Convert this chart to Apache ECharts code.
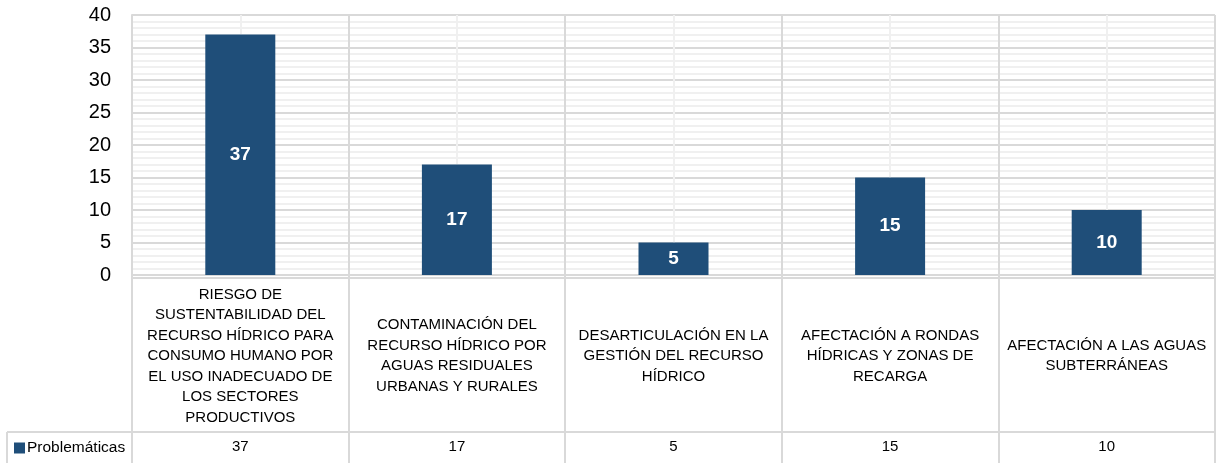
<!DOCTYPE html>
<html>
<head>
<meta charset="utf-8">
<script src="https://cdn.jsdelivr.net/npm/echarts@6/dist/echarts.min.js"></script>
<style>
  html, body { margin: 0; padding: 0; background: #fff; }
  .chart1 { width: 1216px; height: 463px; }
</style>
</head>
<body>
<div class="chart1"></div>
<script>
var categories = [
    'RIESGO DE\nSUSTENTABILIDAD DEL\nRECURSO HÍDRICO PARA\nCONSUMO HUMANO POR\nEL USO INADECUADO DE\nLOS SECTORES\nPRODUCTIVOS',
    'CONTAMINACIÓN DEL\nRECURSO HÍDRICO POR\nAGUAS RESIDUALES\nURBANAS Y RURALES',
    'DESARTICULACIÓN EN LA\nGESTIÓN DEL RECURSO\nHÍDRICO',
    'AFECTACIÓN A RONDAS\nHÍDRICAS Y ZONAS DE\nRECARGA',
    'AFECTACIÓN A LAS AGUAS\nSUBTERRÁNEAS'
];
var seriesName = 'Problemáticas';
var values = [37, 17, 5, 15, 10];
var yTicks = [0, 5, 10, 15, 20, 25, 30, 35, 40];

var myChart1;
function initChart1() {
    var chartDom = document.querySelector('.chart1');
    myChart1 = echarts.init(chartDom);
    var font = "'Liberation Sans', Arial, sans-serif";
    var halfCats = [];
    for (var i = 0; i < categories.length * 2; i++) halfCats.push(i);
    var option;

    option = {
        animation: false,
        textStyle: { fontFamily: font },
        legend: {
            data: [seriesName],
            left: 9,
            top: 435,
            icon: 'rect',
            itemWidth: 11,
            itemHeight: 11,
            itemGap: 3,
            selectedMode: false,
            textStyle: { fontFamily: font, fontSize: 15.5, color: '#000', padding: [0, 0, 0, -3] }
        },
        grid: [
            { left: 132, right: 1, top: 15, bottom: 188, outerBoundsMode: 'none', containLabel: false },
            { left: 132, right: 1, top: 275, bottom: 0, outerBoundsMode: 'none', containLabel: false }
        ],
        xAxis: [
            {
                type: 'category',
                gridIndex: 0,
                position: 'top',
                data: halfCats,
                axisLine: { show: false },
                axisTick: { show: false },
                axisLabel: { show: false },
                splitLine: { show: true, interval: 0, lineStyle: { color: '#f0f0f0', width: 2 } }
            },
            {
                type: 'category',
                gridIndex: 0,
                position: 'bottom',
                data: categories,
                axisLine: { show: true, lineStyle: { color: '#d9d9d9', width: 2 } },
                axisTick: { show: false },
                splitLine: { show: true, lineStyle: { color: '#d9d9d9', width: 2 } },
                axisLabel: {
                    interval: 0,
                    margin: 81,
                    verticalAlign: 'middle',
                    align: 'center',
                    fontSize: 15,
                    lineHeight: 20.5,
                    color: '#000',
                    fontFamily: font
                }
            },
            {
                type: 'category',
                gridIndex: 1,
                data: values,
                position: 'bottom',
                axisLine: { show: false },
                axisTick: { show: false },
                splitLine: { show: true, lineStyle: { color: '#d9d9d9', width: 2 } },
                axisLabel: {
                    inside: true,
                    interval: 0,
                    margin: 16,
                    verticalAlign: 'middle',
                    fontSize: 15,
                    color: '#000',
                    fontFamily: font
                }
            }
        ],
        yAxis: [
            {
                type: 'value',
                gridIndex: 0,
                min: yTicks[0],
                max: yTicks[yTicks.length - 1],
                interval: 5,
                axisLine: { show: true, lineStyle: { color: '#d9d9d9', width: 2 } },
                axisTick: { show: false },
                axisLabel: { margin: 21, fontSize: 20, color: '#000', fontFamily: font },
                splitLine: { show: true, lineStyle: { color: '#d9d9d9', width: 2 } },
                minorTick: { show: false, splitNumber: 5 },
                minorSplitLine: { show: true, lineStyle: { color: '#f0f0f0', width: 2 } }
            },
            {
                type: 'value',
                gridIndex: 1,
                show: false
            }
        ],
        series: [
            {
                name: seriesName,
                type: 'bar',
                xAxisIndex: 1,
                yAxisIndex: 0,
                barWidth: 70,
                data: values,
                itemStyle: { color: '#1f4e79' },
                label: {
                    show: true,
                    position: 'inside',
                    color: '#fff',
                    fontWeight: 'bold',
                    fontSize: 19,
                    fontFamily: font
                }
            }
        ],
        graphic: [
            { type: 'line', shape: { x1: 132, y1: 278, x2: 1216, y2: 278 }, style: { stroke: '#d9d9d9', lineWidth: 2 } },
            { type: 'line', shape: { x1: 7, y1: 432, x2: 1216, y2: 432 }, style: { stroke: '#d9d9d9', lineWidth: 2 } },
            { type: 'line', shape: { x1: 7, y1: 432, x2: 7, y2: 463 }, style: { stroke: '#d9d9d9', lineWidth: 2 } },
            { type: 'line', shape: { x1: 132, y1: 15, x2: 132, y2: 463 }, style: { stroke: '#d9d9d9', lineWidth: 2 } }
        ]
    };

    option && myChart1.setOption(option);
}

document.addEventListener('DOMContentLoaded', function () {
    initChart1();
});

window.addEventListener('resize', () => {
    myChart1.resize();
});
</script>
</body>
</html>
